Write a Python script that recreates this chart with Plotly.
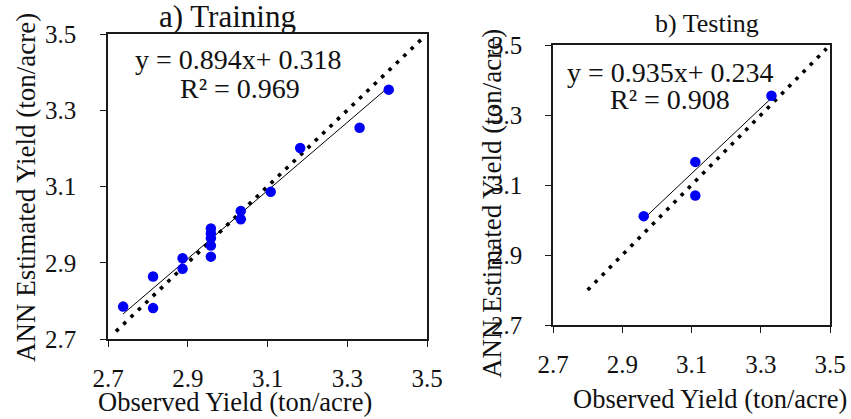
import plotly.graph_objects as go

# ---------------- data ----------------
train_observed = [2.738, 2.813, 2.813, 2.887, 2.887, 2.958, 2.958, 2.958, 2.958, 2.958,
                  3.033, 3.033, 3.108, 3.182, 3.331, 3.404]
train_estimated = [2.785, 2.781, 2.864, 2.912, 2.884, 2.916, 2.945, 2.964, 2.977, 2.990,
                   3.036, 3.014, 3.086, 3.201, 3.254, 3.354]
train_slope, train_intercept, train_r2 = 0.894, 0.318, 0.969
train_one_to_one = [2.72, 3.49]

test_observed = [2.962, 3.111, 3.111, 3.331]
test_estimated = [3.011, 3.166, 3.070, 3.355]
test_slope, test_intercept, test_r2 = 0.935, 0.234, 0.908
test_one_to_one = [2.80, 3.49]

tick_values = [2.7, 2.9, 3.1, 3.3, 3.5]
tick_labels = ["2.7", "2.9", "3.1", "3.3", "3.5"]
panel_titles = ["a) Training", "b) Testing"]
x_title = "Observed Yield (ton/acre)"
y_title = "ANN Estimated Yield (ton/acre)"

# ---------------- layout helpers ----------------
W, H = 851, 419
ML = 50  # left margin (px); paper coordinates are measured inside it
FONT = "Liberation Serif, Times New Roman, serif"
TXT = "#111111"
BLUE = "#0000f5"


def px_x(p):
    return (p - ML) / (W - ML)


def px_y(p):
    return 1 - p / H


fig = go.Figure()


def add_panel(idx, obs, est, slope, intercept, one):
    xa = "x" if idx == 1 else "x2"
    ya = "y" if idx == 1 else "y2"
    # 1:1 dotted line
    fig.add_trace(go.Scatter(x=one, y=one, mode="lines", xaxis=xa, yaxis=ya,
                             line=dict(color="#000000", width=3.6, dash="3.6px,6.6px"),
                             hoverinfo="skip", showlegend=False))
    # regression line
    lx = [min(obs), max(obs)]
    ly = [slope * v + intercept for v in lx]
    fig.add_trace(go.Scatter(x=lx, y=ly, mode="lines", xaxis=xa, yaxis=ya,
                             line=dict(color="#000000", width=1),
                             hoverinfo="skip", showlegend=False))
    # points
    fig.add_trace(go.Scatter(x=obs, y=est, mode="markers", xaxis=xa, yaxis=ya,
                             marker=dict(color=BLUE, size=10.5, line=dict(width=0)),
                             showlegend=False))


add_panel(1, train_observed, train_estimated, train_slope, train_intercept, train_one_to_one)
add_panel(2, test_observed, test_estimated, test_slope, test_intercept, test_one_to_one)

axis_common = dict(range=[2.7, 3.5], tickvals=tick_values, ticktext=tick_labels,
                   showgrid=False, zeroline=False, showline=True, mirror=True,
                   automargin=False,
                   linecolor="#1a1a1a", linewidth=1.5, ticks="outside", ticklen=6,
                   tickwidth=1, tickcolor="#1a1a1a",
                   tickfont=dict(family=FONT, size=25, color=TXT))

fig.update_layout(
    width=W, height=H, autosize=False,
    margin=dict(l=ML, r=0, t=0, b=0, pad=0),
    paper_bgcolor="white", plot_bgcolor="white",
    xaxis=dict(axis_common, domain=[px_x(108), px_x(427)], anchor="y", ticklabelstandoff=10),
    yaxis=dict(axis_common, domain=[px_y(339), px_y(34)], anchor="x", ticklabelstandoff=19),
    xaxis2=dict(axis_common, domain=[px_x(553), px_x(830)], anchor="y2", ticklabelstandoff=10),
    yaxis2=dict(axis_common, domain=[px_y(325), px_y(45)], anchor="x2", ticklabelstandoff=18),
)


def text(s, x, y, size, angle=0):
    fig.add_annotation(text=s, x=px_x(x), y=px_y(y), xref="paper", yref="paper",
                       xanchor="center", yanchor="middle", showarrow=False,
                       textangle=angle, font=dict(family=FONT, size=size, color=TXT))


# titles
text(panel_titles[0], 227, 16, 31)
text(panel_titles[1], 707, 23, 26)
# equations
text(f"y = {train_slope:.3f}x+ {train_intercept:.3f}", 238, 59, 28)
text(f"R² = {train_r2:.3f}", 240, 88, 28)
text(f"y = {test_slope:.3f}x+ {test_intercept:.3f}", 670, 72, 28)
text(f"R² = {test_r2:.3f}", 670, 99, 28)
# axis titles
text(x_title, 235, 402, 26.5)
text(x_title, 710, 399, 26.5)
text(y_title, 26, 188, 27, angle=-90)
text(y_title, 492, 204, 27, angle=-90)

fig.write_html("out.html", config={"displayModeBar": False})

# remove default page margin so the figure sits at the window's top-left corner
with open("out.html", "r", encoding="utf-8") as f:
    html = f.read()
html = html.replace("<body>", '<body style="margin:0;padding:0;overflow:hidden">', 1)
with open("out.html", "w", encoding="utf-8") as f:
    f.write(html)
